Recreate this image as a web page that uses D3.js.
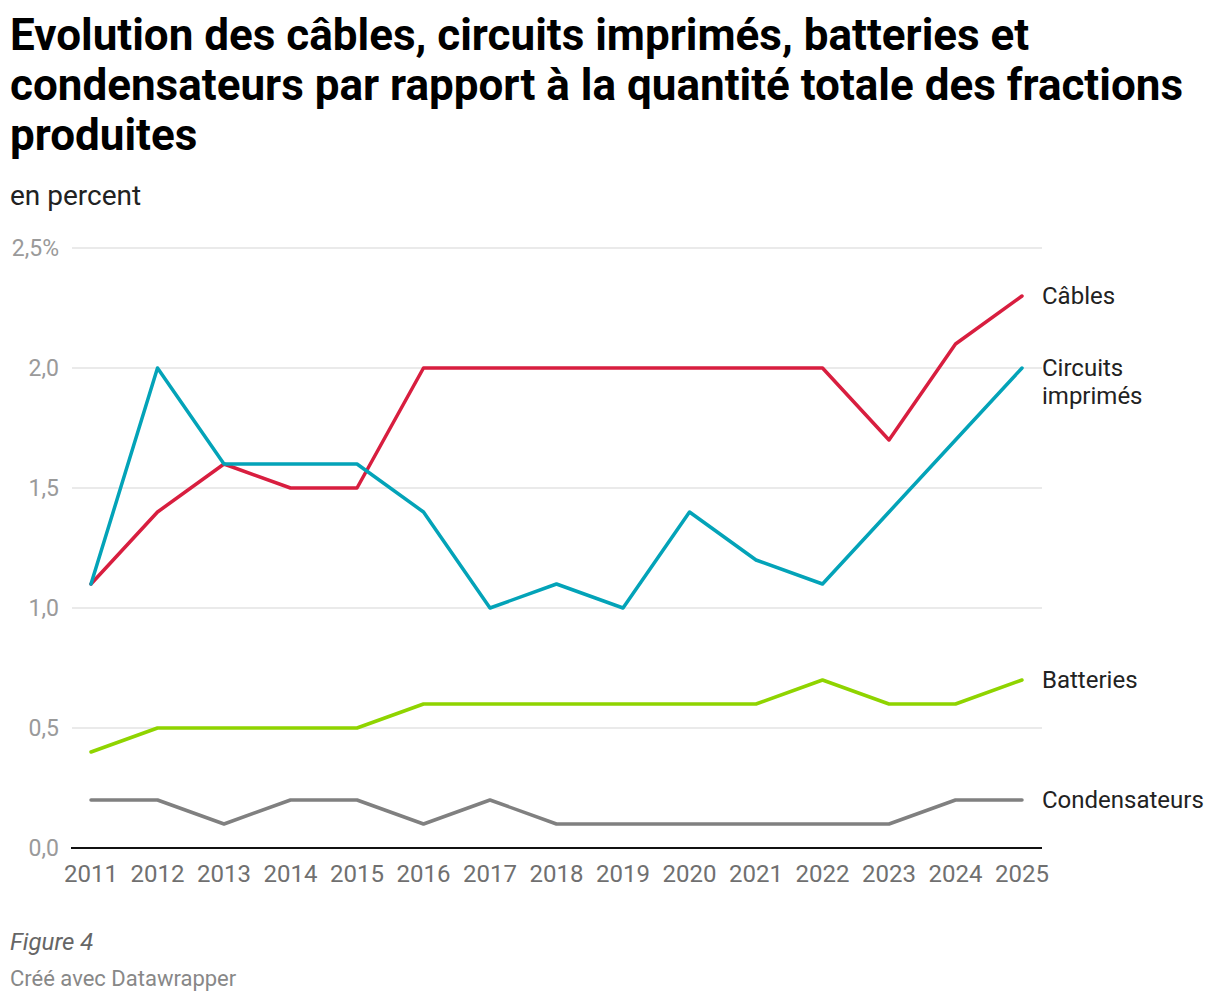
<!DOCTYPE html>
<html>
<head>
<meta charset="utf-8">
<script src="https://cdn.jsdelivr.net/npm/d3@7"></script>
<style>
  body { margin: 0; background: #fff; font-family: Roboto, sans-serif; }
  #chart { position: relative; width: 1220px; height: 1002px; }
</style>
</head>
<body>
<div id="chart"></div>
<script>
const years = [2011, 2012, 2013, 2014, 2015, 2016, 2017, 2018, 2019, 2020, 2021, 2022, 2023, 2024, 2025];
const cables = [1.1, 1.4, 1.6, 1.5, 1.5, 2.0, 2.0, 2.0, 2.0, 2.0, 2.0, 2.0, 1.7, 2.1, 2.3];
const circuits = [1.1, 2.0, 1.6, 1.6, 1.6, 1.4, 1.0, 1.1, 1.0, 1.4, 1.2, 1.1, 1.4, 1.7, 2.0];
const batteries = [0.4, 0.5, 0.5, 0.5, 0.5, 0.6, 0.6, 0.6, 0.6, 0.6, 0.6, 0.7, 0.6, 0.6, 0.7];
const condensateurs = [0.2, 0.2, 0.1, 0.2, 0.2, 0.1, 0.2, 0.1, 0.1, 0.1, 0.1, 0.1, 0.1, 0.2, 0.2];
const yTicks = [0, 0.5, 1, 1.5, 2, 2.5];

const series = [
  { name: ["Câbles"], values: cables, color: "#d81e3f" },
  { name: ["Circuits", "imprimés"], values: circuits, color: "#03a3b8" },
  { name: ["Batteries"], values: batteries, color: "#8fd400" },
  { name: ["Condensateurs"], values: condensateurs, color: "#808080" },
];

const width = 1220, height = 1002;

const svg = d3.select("#chart").append("svg")
  .attr("width", width)
  .attr("height", height);

// title block
const titleLines = [
  "Evolution des câbles, circuits imprimés, batteries et",
  "condensateurs par rapport à la quantité totale des fractions",
  "produites",
];
svg.append("g").selectAll("text")
  .data(titleLines)
  .enter().append("text")
  .attr("x", 10)
  .attr("y", (d, i) => 50 + i * 50)
  .attr("font-size", 44)
  .attr("font-weight", 700)
  .attr("fill", "#000")
  .text((d) => d);

svg.append("text")
  .attr("x", 10).attr("y", 205)
  .attr("font-size", 28)
  .attr("fill", "#222")
  .text("en percent");

const x = d3.scalePoint().domain(years).range([91, 1022]);
const y = d3.scaleLinear().domain([0, 2.5]).range([848, 248]);

// grid
svg.append("g").selectAll("line")
  .data(yTicks.filter((d) => d > 0))
  .enter().append("line")
  .attr("x1", 72).attr("x2", 1042)
  .attr("y1", (d) => y(d)).attr("y2", (d) => y(d))
  .attr("stroke", "#e3e3e3")
  .attr("stroke-width", 1.5);

svg.append("line")
  .attr("x1", 71).attr("x2", 1042)
  .attr("y1", y(0)).attr("y2", y(0))
  .attr("stroke", "#111")
  .attr("stroke-width", 2);

// y labels
svg.append("g").selectAll("text")
  .data(yTicks)
  .enter().append("text")
  .attr("x", 59)
  .attr("y", (d) => y(d))
  .attr("dy", "0.35em")
  .attr("text-anchor", "end")
  .attr("font-size", 23)
  .attr("fill", "#9a9a9a")
  .text((d) => d3.format(".1f")(d).replace(".", ",") + (d === 2.5 ? "%" : ""));

// x labels
svg.append("g").selectAll("text")
  .data(years)
  .enter().append("text")
  .attr("x", (d) => x(d))
  .attr("y", 882)
  .attr("text-anchor", "middle")
  .attr("font-size", 24)
  .attr("fill", "#707070")
  .text((d) => d);

const line = d3.line()
  .x((d, i) => x(years[i]))
  .y((d) => y(d));

// draw grey first so coloured lines sit on top
const order = [3, 2, 0, 1];
svg.append("g").selectAll("path")
  .data(order.map((i) => series[i]))
  .enter().append("path")
  .attr("d", (d) => line(d.values))
  .attr("fill", "none")
  .attr("stroke", (d) => d.color)
  .attr("stroke-width", 3.5)
  .attr("stroke-linejoin", "round")
  .attr("stroke-linecap", "round");

// end labels
series.forEach((s) => {
  const last = s.values[s.values.length - 1];
  const t = svg.append("text")
    .attr("x", 1042)
    .attr("y", y(last))
    .attr("font-size", 24)
    .attr("fill", "#222");
  s.name.forEach((n, i) => {
    t.append("tspan")
      .attr("x", 1042)
      .attr("dy", i === 0 ? "0.35em" : 28)
      .text(n);
  });
});

// footer
svg.append("text")
  .attr("x", 10).attr("y", 950)
  .attr("font-size", 24)
  .attr("font-style", "italic")
  .attr("fill", "#666")
  .text("Figure 4");

svg.append("text")
  .attr("x", 10).attr("y", 986)
  .attr("font-size", 22)
  .attr("fill", "#888")
  .text("Créé avec Datawrapper");
</script>
</body>
</html>
